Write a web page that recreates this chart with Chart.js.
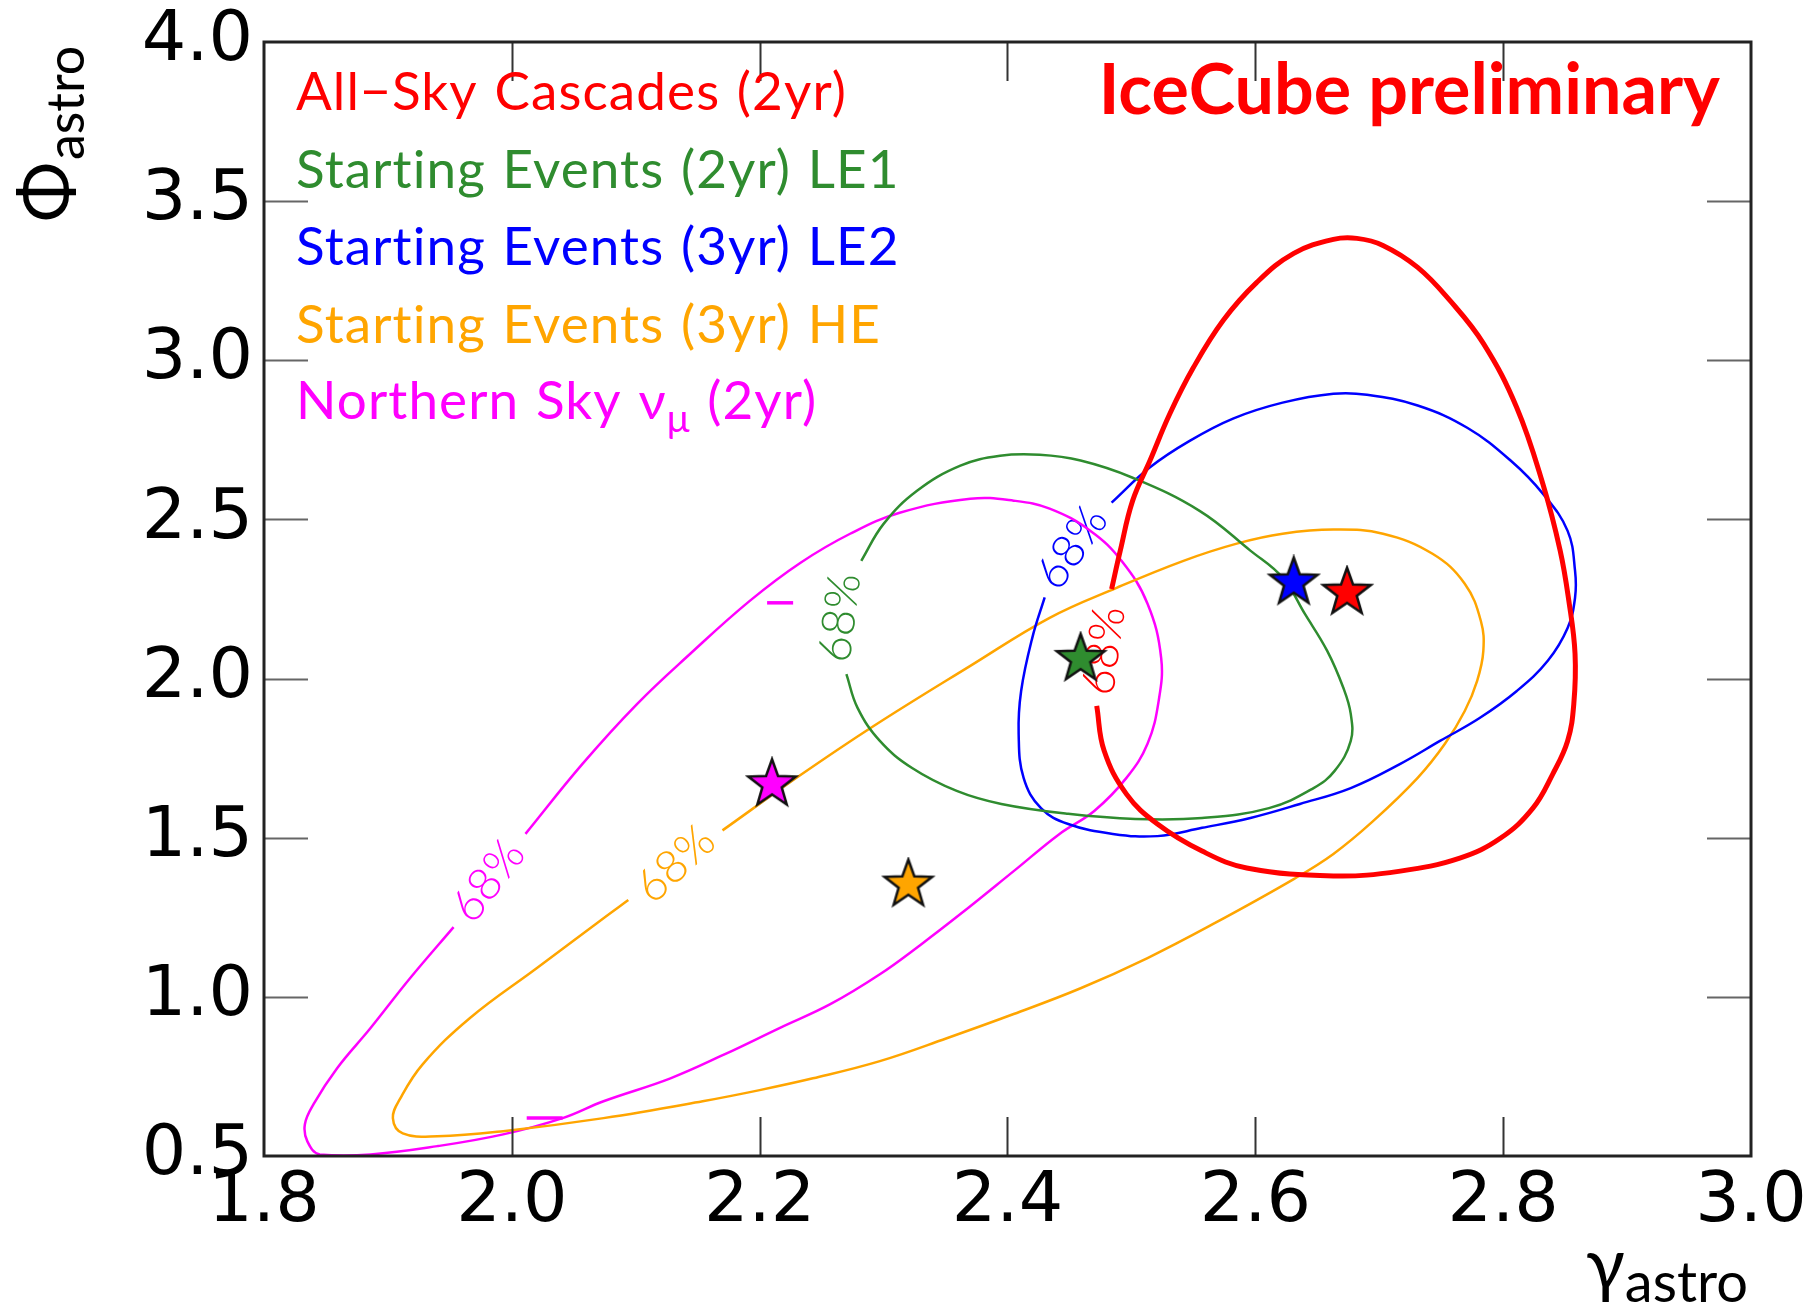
<!DOCTYPE html>
<html>
<head>
<meta charset="utf-8">
<script src="https://cdn.jsdelivr.net/npm/chart.js@4.4.1/dist/chart.umd.min.js"></script>
<style>
  html, body { margin: 0; padding: 0; background: #fff; }
  #wrap { width: 1818px; height: 1311px; position: relative; }
</style>
</head>
<body>
<div id="wrap"><canvas id="contours"></canvas></div>
<script>
// axis ticks
const gammaTicks = [1.8, 2.0, 2.2, 2.4, 2.6, 2.8, 3.0];
const phiTicks = [0.5, 1.0, 1.5, 2.0, 2.5, 3.0, 3.5, 4.0];

// 68% contours, [gamma, phi]
const cascades2yr = [
  [2.484, 2.281], [2.491, 2.402], [2.501, 2.559], [2.515, 2.685], [2.531, 2.832],
  [2.550, 2.977], [2.574, 3.125], [2.601, 3.244], [2.631, 3.336], [2.663, 3.380],
  [2.682, 3.383], [2.703, 3.361], [2.731, 3.292], [2.757, 3.188], [2.784, 3.053],
  [2.811, 2.851], [2.832, 2.612], [2.846, 2.402], [2.853, 2.244], [2.858, 2.078],
  [2.857, 1.920], [2.852, 1.804], [2.840, 1.700], [2.824, 1.593], [2.798, 1.499],
  [2.765, 1.436], [2.717, 1.395], [2.663, 1.380], [2.593, 1.405], [2.557, 1.458],
  [2.521, 1.543], [2.496, 1.637], [2.478, 1.773], [2.472, 1.914]
];
const starting2yrLE1 = [
  [2.282, 2.370], [2.300, 2.486], [2.327, 2.590], [2.362, 2.669], [2.394, 2.700],
  [2.426, 2.703], [2.459, 2.685], [2.501, 2.631], [2.555, 2.527], [2.596, 2.402],
  [2.622, 2.317], [2.640, 2.203], [2.658, 2.087], [2.671, 1.971], [2.677, 1.889],
  [2.677, 1.804], [2.664, 1.710], [2.647, 1.656], [2.611, 1.593], [2.557, 1.562],
  [2.503, 1.559], [2.449, 1.575], [2.395, 1.606], [2.359, 1.647], [2.323, 1.719],
  [2.297, 1.804], [2.279, 1.908], [2.270, 2.014]
];
const starting3yrLE2 = [
  [2.484, 2.553], [2.515, 2.664], [2.547, 2.747], [2.582, 2.817], [2.622, 2.867],
  [2.663, 2.895], [2.690, 2.892], [2.731, 2.858], [2.771, 2.788], [2.806, 2.685],
  [2.832, 2.581], [2.852, 2.464], [2.858, 2.339], [2.858, 2.254], [2.852, 2.159],
  [2.836, 2.056], [2.811, 1.961], [2.781, 1.876], [2.749, 1.804], [2.717, 1.732],
  [2.677, 1.656], [2.636, 1.606], [2.596, 1.562], [2.557, 1.531], [2.521, 1.505],
  [2.485, 1.512], [2.449, 1.543], [2.427, 1.593], [2.413, 1.688], [2.409, 1.826],
  [2.411, 1.961], [2.420, 2.128], [2.430, 2.255]
];
const starting3yrHE = [
  [2.170, 1.523], [2.230, 1.689], [2.292, 1.851], [2.370, 2.040], [2.434, 2.191],
  [2.488, 2.285], [2.542, 2.370], [2.585, 2.424], [2.622, 2.455], [2.663, 2.468],
  [2.703, 2.455], [2.743, 2.392], [2.769, 2.298], [2.782, 2.181], [2.784, 2.087],
  [2.779, 1.993], [2.769, 1.898], [2.753, 1.795], [2.731, 1.688], [2.695, 1.552],
  [2.663, 1.449], [2.631, 1.370], [2.566, 1.229], [2.513, 1.122], [2.459, 1.027],
  [2.405, 0.946], [2.351, 0.870], [2.297, 0.798], [2.243, 0.744], [2.200, 0.707],
  [2.154, 0.672], [2.074, 0.619], [1.993, 0.578], [1.940, 0.562], [1.912, 0.571],
  [1.904, 0.619], [1.910, 0.681], [1.928, 0.788], [1.966, 0.933], [2.020, 1.090],
  [2.074, 1.247], [2.094, 1.304]
];
const northern2yr = [
  [2.011, 1.512], [2.057, 1.732], [2.101, 1.920], [2.144, 2.078], [2.192, 2.244],
  [2.233, 2.364], [2.273, 2.455], [2.313, 2.521], [2.370, 2.565], [2.405, 2.559],
  [2.434, 2.534], [2.467, 2.464], [2.492, 2.370], [2.513, 2.235], [2.524, 2.065],
  [2.522, 1.930], [2.513, 1.795], [2.496, 1.688], [2.470, 1.584], [2.442, 1.512],
  [2.405, 1.395], [2.362, 1.260], [2.330, 1.164], [2.297, 1.071], [2.257, 0.977],
  [2.216, 0.902], [2.172, 0.820], [2.128, 0.744], [2.074, 0.672], [2.041, 0.619],
  [1.993, 0.568], [1.940, 0.531], [1.886, 0.505], [1.845, 0.505], [1.835, 0.546],
  [1.833, 0.600], [1.840, 0.663], [1.859, 0.776], [1.886, 0.902], [1.918, 1.059],
  [1.953, 1.219]
];
// stray bits of the northern contour
const northernDash = [[2.206, 2.238], [2.227, 2.238]];
const northernSpur = [[2.012, 0.619], [2.041, 0.619]];

// best fit points (cascades, LE1, LE2, HE, northern)
const bestGamma = [2.674, 2.459, 2.631, 2.320, 2.210];
const bestPhi = [2.270, 2.062, 2.302, 1.353, 1.668];

// "68%" label anchors [gamma, phi, angle]
const labelSpots = [
  [2.478, 2.087, -82],
  [2.265, 2.191, -83],
  [2.452, 2.411, -55],
  [2.132, 1.417, -43],
  [1.981, 1.364, -53]
];

const seriesNames = [
  "All−Sky Cascades (2yr)",
  "Starting Events (2yr) LE1",
  "Starting Events (3yr) LE2",
  "Starting Events (3yr) HE",
  "Northern Sky νμ (2yr)"
];
const colors = ["#ff0000", "#2f8c2f", "#0000ff", "#ffa500", "#ff00ff"];
const FONT = "Lato, 'Open Sans', sans-serif";
const TICK_FONT = "'DejaVu Sans', sans-serif";

function makeStar(fill) {
  const R = 25, r = 10.2, pad = 3;
  const c = document.createElement("canvas");
  c.width = c.height = 2 * (R + pad);
  const g = c.getContext("2d");
  g.translate(R + pad, R + pad);
  g.beginPath();
  for (let i = 0; i < 10; i++) {
    const rad = i % 2 ? r : R;
    const a = -Math.PI / 2 + (i * Math.PI) / 5;
    if (i) g.lineTo(rad * Math.cos(a), rad * Math.sin(a));
    else g.moveTo(rad * Math.cos(a), rad * Math.sin(a));
  }
  g.closePath();
  g.fillStyle = fill;
  g.fill();
  g.lineWidth = 2.5;
  g.strokeStyle = "#111";
  g.stroke();
  return c;
}

const toXY = (pts) => pts.map(([x, y]) => ({ x, y }));

function contour(data, color, width) {
  return {
    data: toXY(data),
    showLine: true,
    borderColor: color,
    backgroundColor: color,
    borderWidth: width,
    pointRadius: 0,
    tension: 0.4,
    fill: false,
    order: 1,
  };
}

const contourData = [cascades2yr, starting2yrLE1, starting3yrLE2, starting3yrHE, northern2yr];

const datasets = contourData.map((d, i) =>
  Object.assign(contour(d, colors[i], i === 0 ? 5 : 2.5), { label: seriesNames[i] })
);
datasets.push(Object.assign(contour(northernDash, colors[4], 3.5), { tension: 0 }));
datasets.push(Object.assign(contour(northernSpur, colors[4], 3.5), { tension: 0 }));
datasets.push({
  label: "best fit",
  data: bestGamma.map((g, i) => ({ x: g, y: bestPhi[i] })),
  showLine: false,
  pointStyle: colors.map(makeStar),
  pointRadius: 25,
  order: 0,
});

// draw text with optional subscript pieces
function drawRich(ctx, parts, x, y, size) {
  let cx = x;
  parts.forEach((p) => {
    const s = p.sub ? size * 0.72 : size;
    ctx.font = s + "px " + FONT;
    ctx.fillText(p.t, cx, y + (p.sub ? size * 0.24 : 0));
    cx += ctx.measureText(p.t).width;
  });
  return cx - x;
}

const overlay = {
  id: "overlay",
  beforeDatasetsDraw(chart) {
    const { ctx, scales: { x, y } } = chart;
    ctx.save();
    ctx.font = "300 46px " + FONT;
    ctx.textAlign = "center";
    ctx.textBaseline = "middle";
    labelSpots.forEach(([gx, py, ang], i) => {
      ctx.save();
      ctx.translate(x.getPixelForValue(gx), y.getPixelForValue(py));
      ctx.rotate((ang * Math.PI) / 180);
      ctx.fillStyle = colors[i];
      ctx.fillText("68%", 0, 0);
      ctx.restore();
    });
    ctx.restore();
  },
  afterDraw(chart) {
    const { ctx, chartArea: a, scales: { x, y } } = chart;
    ctx.save();
    // inward ticks on all four sides
    ctx.lineWidth = 2;
    ctx.strokeStyle = "#333";
    x.ticks.forEach((t) => {
      if (t.value <= x.min + 1e-6 || t.value >= x.max - 1e-6) return;
      const px = Math.round(x.getPixelForValue(t.value)) + 0.5;
      ctx.beginPath();
      ctx.moveTo(px, a.bottom); ctx.lineTo(px, a.bottom - 39);
      ctx.moveTo(px, a.top); ctx.lineTo(px, a.top + 39);
      ctx.stroke();
    });
    ctx.strokeStyle = "#666";
    y.ticks.forEach((t) => {
      if (t.value <= y.min + 1e-6 || t.value >= y.max - 1e-6) return;
      const py = Math.round(y.getPixelForValue(t.value)) + 0.5;
      ctx.beginPath();
      ctx.moveTo(a.left, py); ctx.lineTo(a.left + 44, py);
      ctx.moveTo(a.right, py); ctx.lineTo(a.right - 44, py);
      ctx.stroke();
    });
    // frame
    ctx.lineWidth = 3;
    ctx.strokeStyle = "#222";
    ctx.strokeRect(a.left, a.top, a.right - a.left, a.bottom - a.top);

    // legend text
    ctx.textAlign = "left";
    ctx.textBaseline = "alphabetic";
    ctx.save();
    ctx.letterSpacing = "1.1px";
    ctx.wordSpacing = "2px";
    const baselines = [110, 188, 265, 343, 419];
    seriesNames.forEach((name, i) => {
      ctx.fillStyle = colors[i];
      const parts = i === 4
        ? [{ t: "Northern Sky ν" }, { t: "μ", sub: true }, { t: " (2yr)" }]
        : [{ t: name }];
      drawRich(ctx, parts, 296, baselines[i], 53);
    });
    ctx.restore();

    // IceCube preliminary
    ctx.fillStyle = "#ff0000";
    ctx.font = "bold 70px " + FONT;
    ctx.textAlign = "right";
    ctx.fillText("IceCube preliminary", 1720, 114);

    // x axis title
    ctx.fillStyle = "#000";
    ctx.textAlign = "left";
    ctx.font = "72px " + FONT;
    const wg = ctx.measureText("γ").width;
    ctx.font = "56px " + FONT;
    const wa = ctx.measureText("astro").width;
    const x0 = 1748 - wg - wa;
    ctx.font = "72px " + FONT;
    ctx.fillText("γ", x0, 1290);
    ctx.font = "56px " + FONT;
    ctx.fillText("astro", x0 + wg, 1302);

    // y axis title
    ctx.save();
    ctx.translate(0, 222);
    ctx.rotate(-Math.PI / 2);
    ctx.font = "72px " + FONT;
    ctx.fillText("Φ", 0, 72);
    const wp = ctx.measureText("Φ").width;
    ctx.font = "52px " + FONT;
    ctx.fillText("astro", wp + 2, 84);
    ctx.restore();

    ctx.restore();
  },
};

new Chart(document.getElementById("contours"), {
  type: "scatter",
  data: { datasets },
  options: {
    responsive: true,
    maintainAspectRatio: false,
    animation: false,
    layout: { padding: { top: 42, right: 67, bottom: 0, left: 0 } },
    plugins: {
      legend: { display: false },
      tooltip: { enabled: false },
    },
    scales: {
      x: {
        type: "linear",
        min: 1.8,
        max: 3.0,
        afterBuildTicks: (s) => { s.ticks = gammaTicks.map((v) => ({ value: v })); },
        afterFit: (s) => { s.height = 155; s.paddingLeft = 0; s.paddingRight = 0; },
        ticks: {
          autoSkip: false,
          maxRotation: 0,
          padding: 5,
          color: "#000",
          font: { family: TICK_FONT, size: 70 },
          callback: (v) => Number(v).toFixed(1),
        },
        grid: { display: false, drawTicks: false },
        border: { display: false },
      },
      y: {
        type: "linear",
        min: 0.5,
        max: 4.0,
        afterBuildTicks: (s) => { s.ticks = phiTicks.map((v) => ({ value: v })); },
        afterFit: (s) => { s.width = 264; s.paddingTop = 0; s.paddingBottom = 0; },
        ticks: {
          autoSkip: false,
          padding: 11,
          color: "#000",
          font: { family: TICK_FONT, size: 70 },
          callback: (v) => Number(v).toFixed(1),
        },
        grid: { display: false, drawTicks: false },
        border: { display: false },
      },
    },
  },
  plugins: [overlay],
});
</script>
</body>
</html>
